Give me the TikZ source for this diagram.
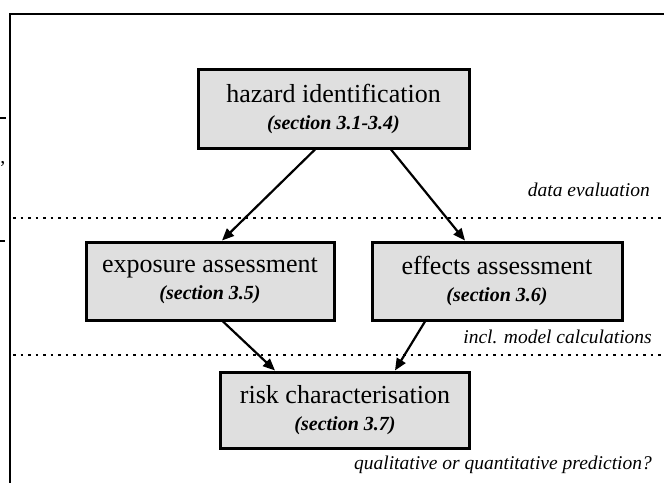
\documentclass[tikz,border=0pt]{standalone}
\usepackage{fontspec}
\setmainfont{Liberation Serif}
\usetikzlibrary{arrows.meta}
\newcommand\subsize{\fontsize{20}{22}\selectfont\bfseries\itshape}
\begin{document}
\begin{tikzpicture}[x=1pt,y=-1pt,
  stagebox/.style={draw=black, line width=3pt, fill=gray!25, inner sep=0pt,
    align=center, font=\fontsize{26}{28}\selectfont},
  arr/.style={line width=2.2pt, -{Triangle[length=12pt,width=10pt]}},
  sep/.style={line width=1.5pt, dash pattern=on 2.5pt off 5pt},
  note/.style={font=\fontsize{19.5}{21}\selectfont\itshape, anchor=east, inner sep=0pt}]
\useasboundingbox (0,0) rectangle (664,483);
% frame
\coordinate (ftl) at (10,14);
\coordinate (ftr) at (664,14);
\coordinate (fbl) at (10,483);
\draw[line width=2pt] (ftr) -- (ftl) -- (fbl);
% small marks at left edge
\draw[line width=1.5pt] (0,118) -- (6,118);
\draw[line width=1.5pt] (0,241) -- (5,241);
\node[inner sep=0pt, font=\fontsize{20}{20}\selectfont] (comma) at (3,164) {,};
% dotted separators
\coordinate (d1a) at (13,218); \coordinate (d1b) at (664,218);
\coordinate (d2a) at (13,355); \coordinate (d2b) at (664,355);
\draw[sep] (d1a) -- (d1b);
\draw[sep] (d2a) -- (d2b);
% boxes
\node[stagebox, minimum width=271pt, minimum height=79pt] (haz) at (333.5,108.5)
  {hazard identification\\[-1pt]{\subsize (section 3.1-3.4)}};
\node[stagebox, minimum width=248pt, minimum height=78pt] (exp) at (210,281)
  {exposure assessment\\[-1pt]{\subsize (section 3.5)}};
\node[stagebox, minimum width=250pt, minimum height=78pt] (eff) at (497,281)
  {effects assessment\\[-1pt]{\subsize (section 3.6)}};
\node[stagebox, minimum width=249pt, minimum height=76pt] (risk) at (345,410)
  {risk characterisation\\[-1pt]{\subsize (section 3.7)}};
% arrows
\draw[arr] ([xshift=-18.5pt]haz.south) -- ([xshift=12pt]exp.north);
\draw[arr] ([xshift=57.5pt]haz.south) -- ([xshift=-32pt]eff.north);
\draw[arr] ([xshift=13pt]exp.south) -- ([xshift=-70pt]risk.north);
\draw[arr] ([xshift=-72pt]eff.south) -- ([xshift=50pt]risk.north);
% notes
\node[note] (n1) at (650,190) {data evaluation};
\node[note] (n2) at (652,337) {incl. model calculations};
\node[note] (n3) at (652,465) {qualitative or quantitative prediction?};
\end{tikzpicture}
\end{document}
